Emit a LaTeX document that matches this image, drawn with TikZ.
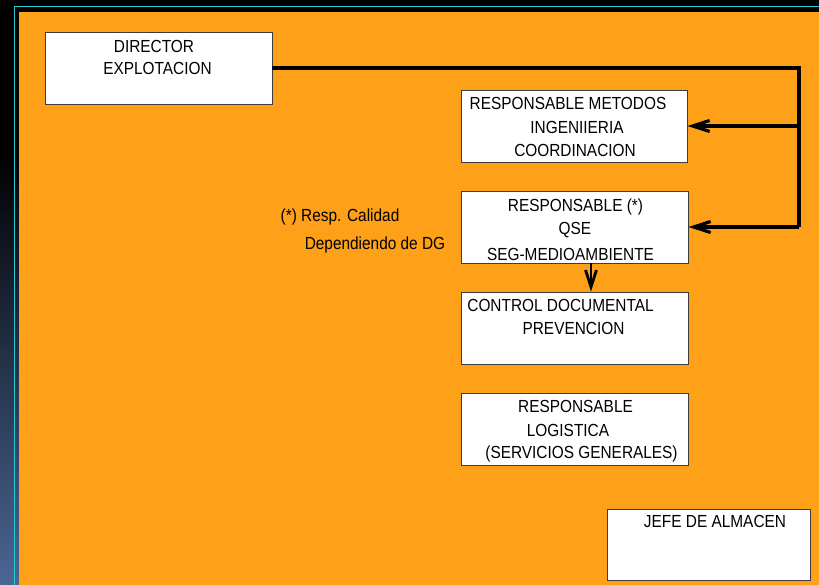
\documentclass[tikz,border=0pt]{standalone}
\usepackage{fontspec}
\setmainfont{Liberation Sans}[FakeStretch=0.88]
\usetikzlibrary{arrows.meta}
\definecolor{bgorange}{RGB}{254,160,24}
\definecolor{cyanline}{RGB}{40,200,210}
\definecolor{stripblue}{RGB}{74,102,148}
\definecolor{boxedge}{RGB}{60,60,60}
\begin{document}
\begin{tikzpicture}[x=1pt,y=-1pt,
  box/.style={draw=boxedge, line width=0.9pt, fill=white, inner sep=0pt},
  lbl/.style={inner sep=0pt, anchor=base, font=\fontsize{17.5}{21}\selectfont},
  conn/.style={line width=3.2pt, line join=miter, black},
  arr/.style={conn, -{Straight Barb[length=17pt,width=11pt]}}]
\useasboundingbox (0,0) rectangle (819,585);
% background
\fill[black] (0,0) rectangle (819,585);
\shade[top color=black, bottom color=stripblue] (0,150) rectangle (19,585);
\fill[bgorange] (19,12) rectangle (819,585);
\draw[cyanline, line width=1.4pt] (14.5,585) -- (14.5,6.5) -- (819,6.5);
% boxes
\node[box, minimum width=227pt, minimum height=72pt] (dir) at (158.5,68) {};
\node[box, minimum width=226pt, minimum height=72pt] (met) at (574,126) {};
\node[box, minimum width=227pt, minimum height=72pt] (qse) at (574.5,227) {};
\node[box, minimum width=227pt, minimum height=72pt] (ctrl) at (574.5,328) {};
\node[box, minimum width=227pt, minimum height=72pt] (log) at (574.5,429) {};
\node[box, minimum width=203pt, minimum height=71pt] (jefe) at (708.5,544.5) {};
% texts
\node[lbl] (t1) at (154,52.3) {DIRECTOR};
\node[lbl] (t2) at (157.5,74.8) {EXPLOTACION};
\node[lbl] (t3) at (568,109.8) {RESPONSABLE METODOS};
\node[lbl] (t4) at (577,133.3) {INGENIIERIA};
\node[lbl] (t5) at (575,156.8) {COORDINACION};
\node[lbl] (t6) at (575.5,211.3) {RESPONSABLE (*)};
\node[lbl] (t7) at (575,234.8) {QSE};
\node[lbl] (t8) at (570.5,260.3) {SEG-MEDIOAMBIENTE};
\node[lbl] (t9) at (560.5,311.3) {CONTROL DOCUMENTAL};
\node[lbl] (t10) at (573.5,334.8) {PREVENCION};
\node[lbl] (t11) at (575.5,412.8) {RESPONSABLE};
\node[lbl] (t12) at (568,436.3) {LOGISTICA};
\node[lbl] (t13) at (581.5,458.8) {(SERVICIOS GENERALES)};
\node[lbl] (t14) at (715,527.3) {JEFE DE ALMACEN};
\node[lbl] (n1) at (340,221.8) {(*) Resp. Calidad};
\node[lbl] (n2) at (375,249.8) {Dependiendo de DG};
% connectors
\coordinate (c1) at (799,68);
\coordinate (c2) at (799,227);
\draw[conn] (dir.east) -- (c1) -- (c2);
\draw[arr] (c2) -- (qse.east);
\draw[arr] (met.east -| c1) -- (met.east);
\draw[arr, line width=2.8pt] ([xshift=16.5pt]qse.south) -- ([xshift=16.5pt]ctrl.north);
\end{tikzpicture}
\end{document}
